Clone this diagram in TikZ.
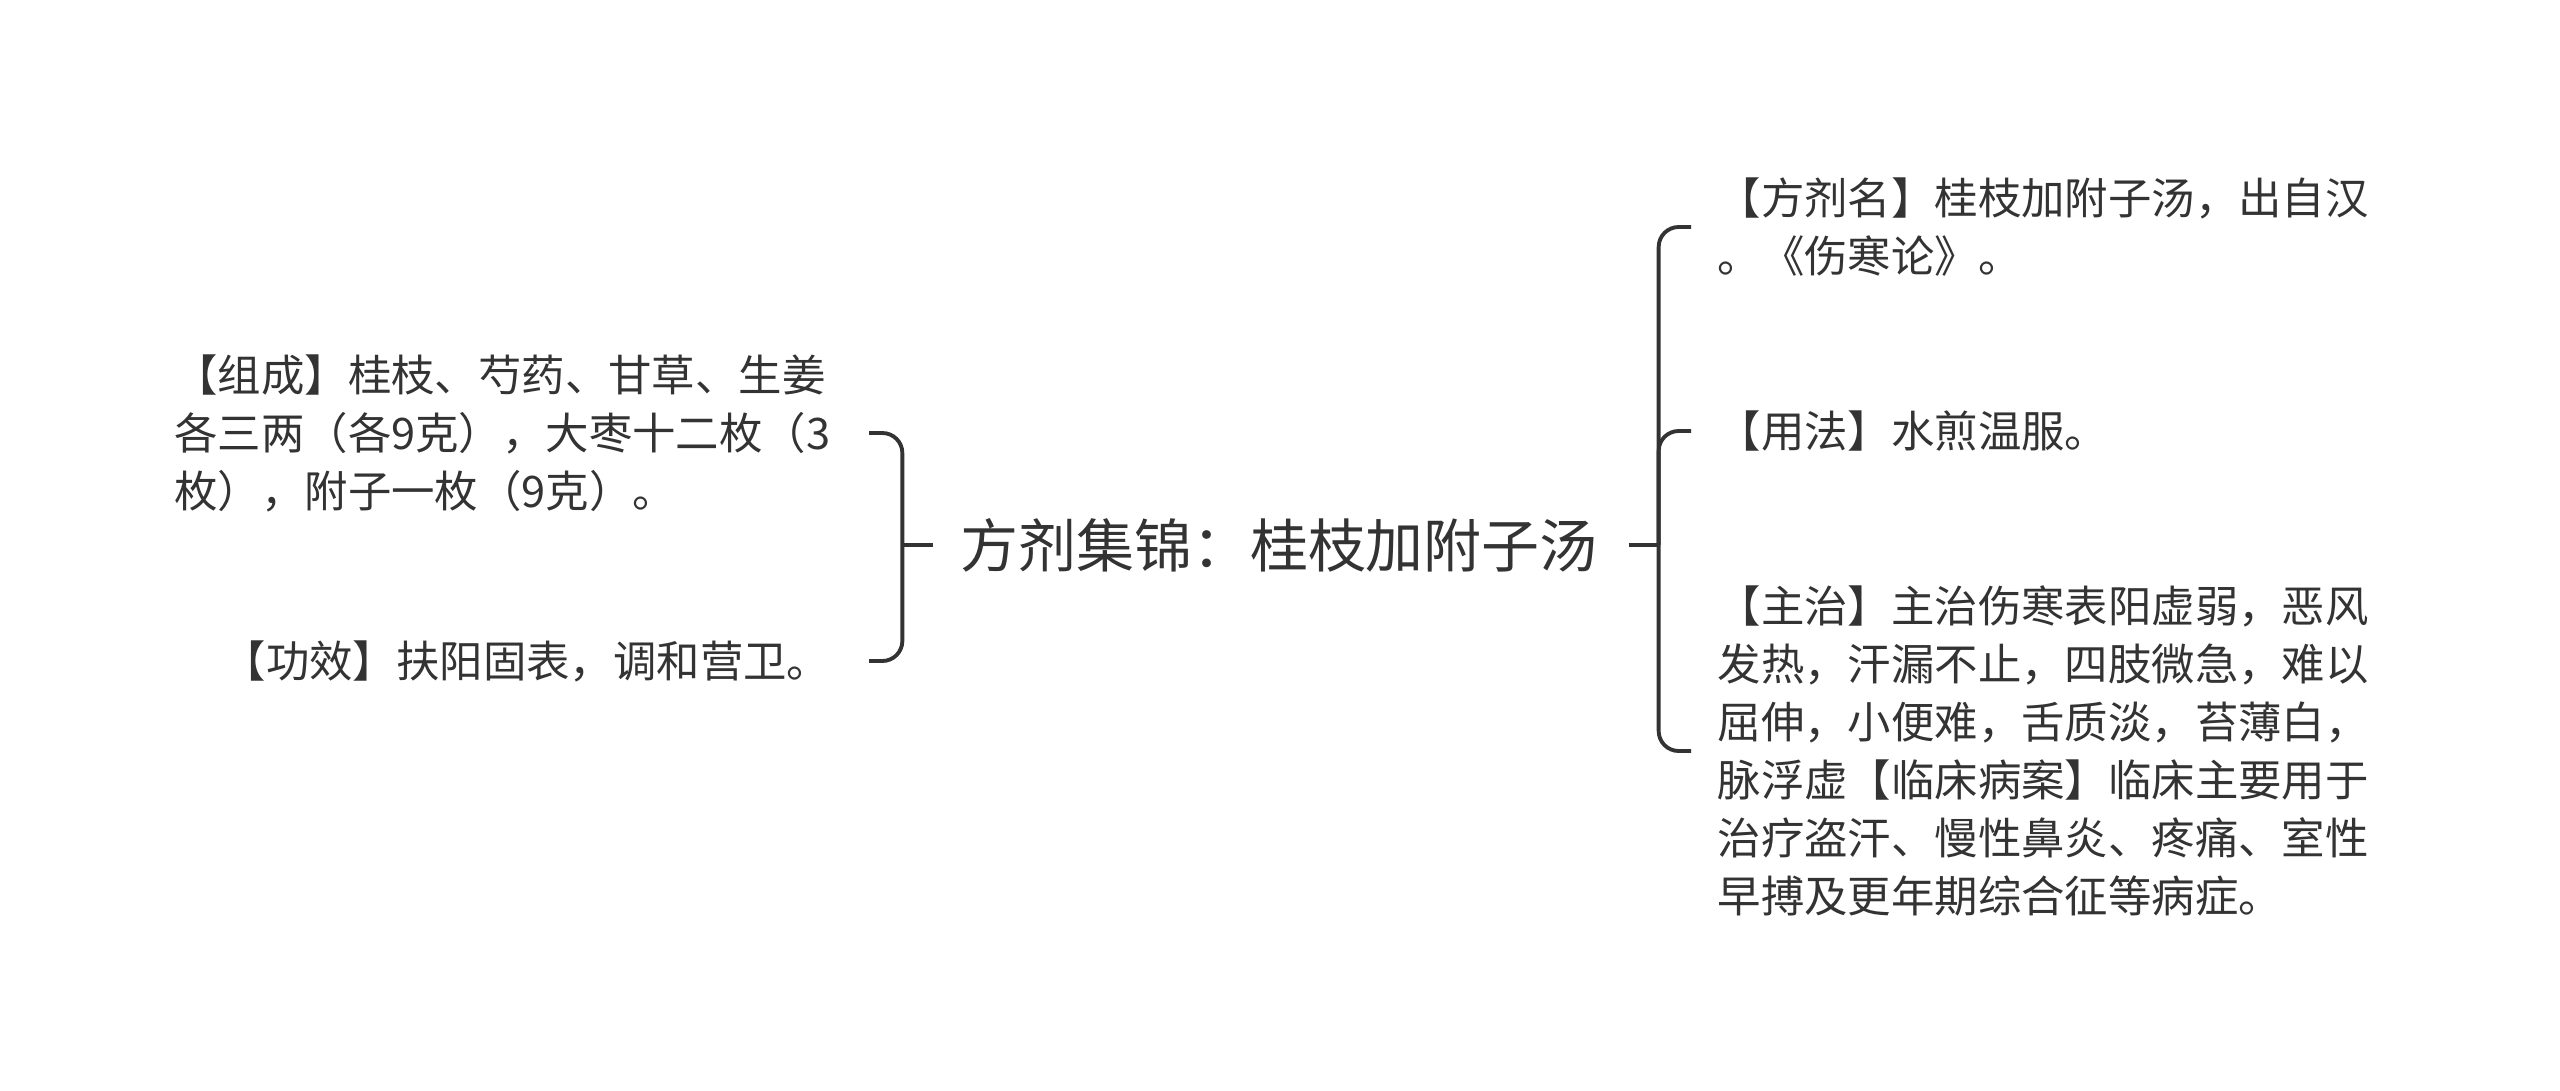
\documentclass[tikz,border=0pt]{standalone}
\usepackage{fontspec}
\setmainfont{Noto Sans CJK SC}
\definecolor{ink}{HTML}{333333}

\begin{document}
\begin{tikzpicture}
    \tikzstyle{topic} = [inner sep=0pt, text=ink, font=\fontsize{16.5}{20}\selectfont]
    \tikzstyle{leaf} = [inner sep=0pt, text=ink, align=left, font=\fontsize{12.35}{16.5}\selectfont]
    \tikzstyle{branch} = [draw=ink, line width=1.1pt, rounded corners=0.2cm]

    \useasboundingbox (0,0) rectangle (25.6,-10.91);

    % Nodes
    \node [topic] (root) at (12.79,-5.45) {方剂集锦：桂枝加附子汤};

    \node [leaf, anchor=east] (zucheng) at (8.31,-4.33) {【组成】桂枝、芍药、甘草、生姜\\各三两（各9克），大枣十二枚（3\\枚），附子一枚（9克）。};
    \node [leaf, anchor=east] (gongxiao) at (8.31,-6.61) {【功效】扶阳固表，调和营卫。};

    \node [leaf, anchor=west] (fangming) at (17.17,-2.27) {【方剂名】桂枝加附子汤，出自汉\\。《伤寒论》。};
    \node [leaf, anchor=west] (yongfa) at (17.17,-4.31) {【用法】水煎温服。};
    \node [leaf, anchor=west] (zhuzhi) at (17.17,-7.51) {【主治】主治伤寒表阳虚弱，恶风\\发热，汗漏不止，四肢微急，难以\\屈伸，小便难，舌质淡，苔薄白，\\脉浮虚【临床病案】临床主要用于\\治疗盗汗、慢性鼻炎、疼痛、室性\\早搏及更年期综合征等病症。};

    % Connections
    \draw [branch] ([xshift=-0.26cm]root.west) -- ++(-0.31,0) coordinate (lj);
    \draw [branch] (lj) |- ([xshift=0.38cm]zucheng.east);
    \draw [branch] (lj) |- ([xshift=0.38cm]gongxiao.east);

    \draw [branch] ([xshift=0.30cm]root.east) -- ++(0.30,0) coordinate (rj);
    \draw [branch] (rj) |- ([xshift=-0.26cm]fangming.west);
    \draw [branch] (rj) |- ([xshift=-0.26cm]yongfa.west);
    \draw [branch] (rj) |- ([xshift=-0.26cm]zhuzhi.west);
\end{tikzpicture}
\end{document}
